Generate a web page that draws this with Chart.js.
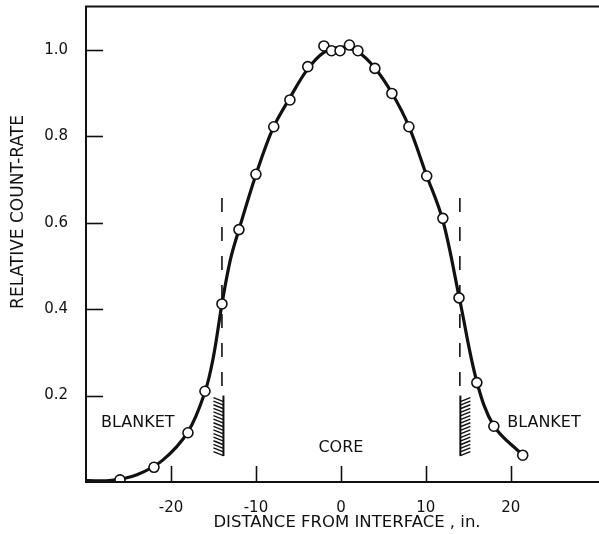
<!DOCTYPE html>
<html><head><meta charset="utf-8">
<script src="https://cdn.jsdelivr.net/npm/chart.js@4/dist/chart.umd.min.js"></script>
<style>html,body{margin:0;padding:0;background:#fff}</style>
</head><body>
<canvas id="c" width="599" height="534"></canvas>
<script>
// measured points
const distance  = [-26, -22, -18, -16, -14, -12, -10, -7.9, -6, -3.9, -2, -1.1, -0.1, 1, 2, 4, 6, 8, 10.1, 12, 13.9, 16, 18, 21.4];
const countRate = [0.005, 0.034, 0.114, 0.21, 0.412, 0.584, 0.712, 0.822, 0.884, 0.961, 1.009, 0.998, 0.998, 1.011, 0.998, 0.957, 0.899, 0.822, 0.708, 0.61, 0.426, 0.23, 0.129, 0.062];
// smooth curve
const curveX = [-30, -27, -24, -21, -18, -16, -15, -14, -13, -12, -10, -8, -6, -4, -2, 0, 2, 4, 6, 8, 10, 12, 14, 16, 18, 21.4];
const curveY = [0.003, 0.004, 0.017, 0.05, 0.116, 0.208, 0.29, 0.412, 0.515, 0.584, 0.711, 0.818, 0.889, 0.953, 0.994, 1.006, 0.995, 0.958, 0.9, 0.823, 0.714, 0.605, 0.42, 0.232, 0.13, 0.062];
const xTicks = [-20, -10, 0, 10, 20];
const yTicks = [0.2, 0.4, 0.6, 0.8, 1.0];
const interfaceX = [-14, 14];
const dashTop = 0.657, dashBottom = 0.2, hatchBottom = 0.06;
const regionLabels = ['BLANKET', 'CORE', 'BLANKET'];
const xTitle = 'DISTANCE FROM INTERFACE , in.';
const yTitle = 'RELATIVE COUNT-RATE';

const FONT = '"DejaVu Sans", sans-serif';

const deco = {
  id: 'deco',
  beforeDatasetsDraw(chart) {
    const ctx = chart.ctx, xs = chart.scales.x, ys = chart.scales.y;
    ctx.save();
    ctx.strokeStyle = '#111';
    const y0 = ys.getPixelForValue(dashBottom), y1 = ys.getPixelForValue(hatchBottom);
    interfaceX.forEach((xv, i) => {
      const px = xs.getPixelForValue(xv) + (i === 0 ? 1.5 : 0.5);
      const dir = i === 0 ? -1 : 1;
      ctx.lineWidth = 2;
      ctx.beginPath(); ctx.moveTo(px, y0); ctx.lineTo(px, y1); ctx.stroke();
      ctx.lineWidth = 1.4;
      for (let y = y0 + 2; y <= y1 - 2; y += 3.6) {
        ctx.beginPath();
        ctx.moveTo(px, y + 4);
        ctx.lineTo(px + dir * 10, y);
        ctx.stroke();
      }
    });
    ctx.fillStyle = '#111';
    ctx.font = '16px ' + FONT;
    ctx.textAlign = 'center'; ctx.textBaseline = 'middle';
    ctx.fillText(regionLabels[0], xs.getPixelForValue(-23.9), ys.getPixelForValue(0.136));
    ctx.fillText(regionLabels[1], xs.getPixelForValue(0), ys.getPixelForValue(0.079));
    ctx.fillText(regionLabels[2], xs.getPixelForValue(23.9), ys.getPixelForValue(0.136));
    ctx.restore();
  },
  afterDraw(chart) {
    const ctx = chart.ctx, a = chart.chartArea, xs = chart.scales.x, ys = chart.scales.y;
    ctx.save();
    ctx.strokeStyle = '#111';
    ctx.lineWidth = 2;
    ctx.beginPath();
    ctx.moveTo(chart.width, a.top); ctx.lineTo(a.left, a.top); ctx.lineTo(a.left, a.bottom); ctx.lineTo(chart.width, a.bottom);
    ctx.stroke();
    ctx.lineWidth = 1.6;
    yTicks.forEach(v => {
      const py = Math.round(ys.getPixelForValue(v)) + 0.5;
      ctx.beginPath(); ctx.moveTo(a.left, py); ctx.lineTo(a.left + 17, py); ctx.stroke();
    });
    xTicks.forEach(v => {
      const px = Math.round(xs.getPixelForValue(v)) + 0.5;
      ctx.beginPath(); ctx.moveTo(px, a.bottom); ctx.lineTo(px, a.bottom - 16); ctx.stroke();
    });
    ctx.fillStyle = '#111';
    ctx.textAlign = 'center'; ctx.textBaseline = 'middle';
    ctx.font = '16.5px ' + FONT;
    ctx.fillText(xTitle, 347, 523);
    ctx.translate(19, 212);
    ctx.rotate(-Math.PI / 2);
    ctx.font = '17px ' + FONT;
    ctx.fillText(yTitle, 0, 0);
    ctx.restore();
  }
};

function noPad(s) { s.paddingTop = 0; s.paddingBottom = 0; s.paddingLeft = 0; s.paddingRight = 0; }

new Chart(document.getElementById('c'), {
  type: 'scatter',
  data: {
    datasets: [
      {
        label: 'measured',
        data: distance.map((x, i) => ({x, y: countRate[i]})),
        showLine: false,
        pointRadius: 5,
        pointBackgroundColor: '#fff',
        pointBorderColor: '#111',
        pointBorderWidth: 1.6,
        order: 0
      },
      {
        label: 'curve',
        data: curveX.map((x, i) => ({x, y: curveY[i]})),
        showLine: true,
        pointRadius: 0,
        borderColor: '#111',
        borderWidth: 3.2,
        tension: 0.35,
        order: 1
      },
      ...interfaceX.map(xv => ({
        label: 'interface',
        data: [{x: xv, y: dashTop}, {x: xv, y: dashBottom}],
        showLine: true,
        pointRadius: 0,
        borderColor: '#111',
        borderWidth: 1.6,
        borderDash: [14, 15],
        order: 2
      }))
    ]
  },
  options: {
    responsive: false,
    animation: false,
    devicePixelRatio: 1,
    layout: {padding: {top: 4, left: 0, right: 0, bottom: 0}},
    plugins: {legend: {display: false}, tooltip: {enabled: false}, title: {display: false}},
    scales: {
      x: {
        type: 'linear', min: -30, max: 29.6,
        grid: {display: false, drawTicks: false},
        border: {display: false},
        afterFit: s => { s.height = 52; noPad(s); },
        afterBuildTicks: s => { s.ticks = xTicks.map(v => ({value: v})); },
        ticks: {color: '#111', font: {family: FONT, size: 15}, padding: 17, maxRotation: 0,
                callback: v => String(v)}
      },
      y: {
        type: 'linear', min: 0, max: 1.1,
        grid: {display: false, drawTicks: false},
        border: {display: false},
        afterFit: s => { s.width = 86; noPad(s); },
        afterBuildTicks: s => { s.ticks = yTicks.map(v => ({value: v})); },
        ticks: {color: '#111', font: {family: FONT, size: 15}, padding: 18,
                callback: v => Number(v).toFixed(1)}
      }
    }
  },
  plugins: [deco]
});
</script>
</body></html>
